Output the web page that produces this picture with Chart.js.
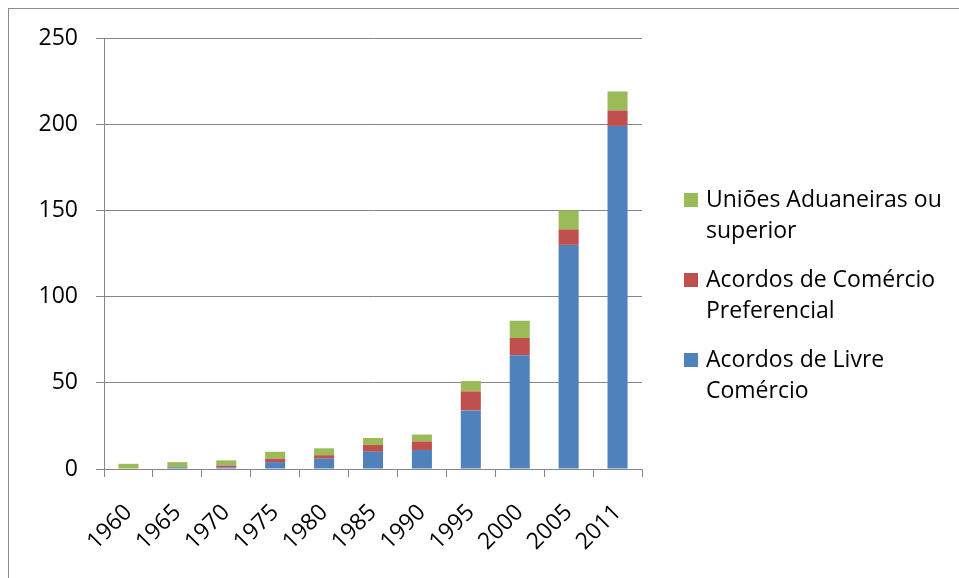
<!DOCTYPE html>
<html>
<head>
<meta charset="utf-8">
<script src="https://cdn.jsdelivr.net/npm/chart.js@4"></script>
<style>
  html, body { margin: 0; padding: 0; background: #fff; }
  #wrap { width: 959px; height: 578px; }
</style>
</head>
<body>
<div id="wrap"><canvas id="myChart" width="959" height="578"></canvas></div>
<script>
var years = ['1960', '1965', '1970', '1975', '1980', '1985', '1990', '1995', '2000', '2005', '2011'];
var livreComercio = [0, 1, 1, 4, 6, 10, 11, 34, 66, 130, 199];
var comercioPreferencial = [0, 0, 1, 2, 2, 4, 5, 11, 10, 9, 9];
var unioesAduaneiras = [3, 3, 3, 4, 4, 4, 4, 6, 10, 11, 11];
var yTicks = [0, 50, 100, 150, 200, 250];

var seriesNames = [
    ['Acordos de Livre', 'Comércio'],
    ['Acordos de Comércio', 'Preferencial'],
    ['Uniões Aduaneiras ou', 'superior']
];
var seriesColors = ['#4F81BD', '#C0504D', '#9BBB59'];

var fontFamily = '"Open Sans", "Liberation Sans", sans-serif';
var ctx = document.getElementById('myChart').getContext('2d');

// moldura cinza em volta do grafico
var borderPlugin = {
    id: 'borderPlugin',
    beforeDraw: function(chart) {
        var c = chart.ctx;
        c.save();
        c.strokeStyle = '#8c8c8c';
        c.lineWidth = 1;
        c.strokeRect(8.5, 8.5, 2000, 2000);
        c.restore();
    }
};

// legenda a direita, com quebra de linha como no Excel
var legendPlugin = {
    id: 'legendPlugin',
    afterDraw: function(chart) {
        var c = chart.ctx;
        var items = chart.data.datasets.slice().reverse();
        var y = 200;
        c.save();
        c.font = '23px ' + fontFamily;
        c.textBaseline = 'middle';
        items.forEach(function(ds) {
            c.fillStyle = ds.backgroundColor;
            c.fillRect(684, y - 7, 14, 14);
            c.fillStyle = '#000';
            ds.lines.forEach(function(t, i) {
                c.fillText(t, 706, y + i * 31);
            });
            y += 80;
        });
        c.restore();
    }
};

var myChart = new Chart(ctx, {
    type: 'bar',
    data: {
        labels: years,
        datasets: [
            { label: seriesNames[0].join(' '), lines: seriesNames[0], data: livreComercio, backgroundColor: seriesColors[0] },
            { label: seriesNames[1].join(' '), lines: seriesNames[1], data: comercioPreferencial, backgroundColor: seriesColors[1] },
            { label: seriesNames[2].join(' '), lines: seriesNames[2], data: unioesAduaneiras, backgroundColor: seriesColors[2] }
        ]
    },
    options: {
        responsive: false,
        animation: false,
        barPercentage: 0.41,
        categoryPercentage: 1,
        layout: {
            padding: { left: 0, top: 38, right: 317, bottom: 0 }
        },
        scales: {
            x: {
                stacked: true,
                afterFit: function(scale) { scale.height = 109; },
                grid: {
                    drawOnChartArea: false,
                    drawTicks: true,
                    tickLength: 8,
                    color: '#868686',
                    offset: true
                },
                border: { display: true, color: '#868686' },
                ticks: {
                    minRotation: 45,
                    maxRotation: 45,
                    padding: 22,
                    color: '#000',
                    font: { family: fontFamily, size: 23 }
                }
            },
            y: {
                stacked: true,
                min: 0,
                max: 250,
                afterFit: function(scale) { scale.width = 104; },
                afterBuildTicks: function(scale) {
                    scale.ticks = yTicks.map(function(v) { return { value: v }; });
                },
                grid: {
                    color: '#868686',
                    tickLength: 8
                },
                border: { display: true, color: '#868686' },
                ticks: {
                    padding: 18,
                    color: '#000',
                    font: { family: fontFamily, size: 23 }
                }
            }
        },
        plugins: {
            legend: { display: false },
            tooltip: { enabled: false }
        }
    },
    plugins: [borderPlugin, legendPlugin]
});
</script>
</body>
</html>
